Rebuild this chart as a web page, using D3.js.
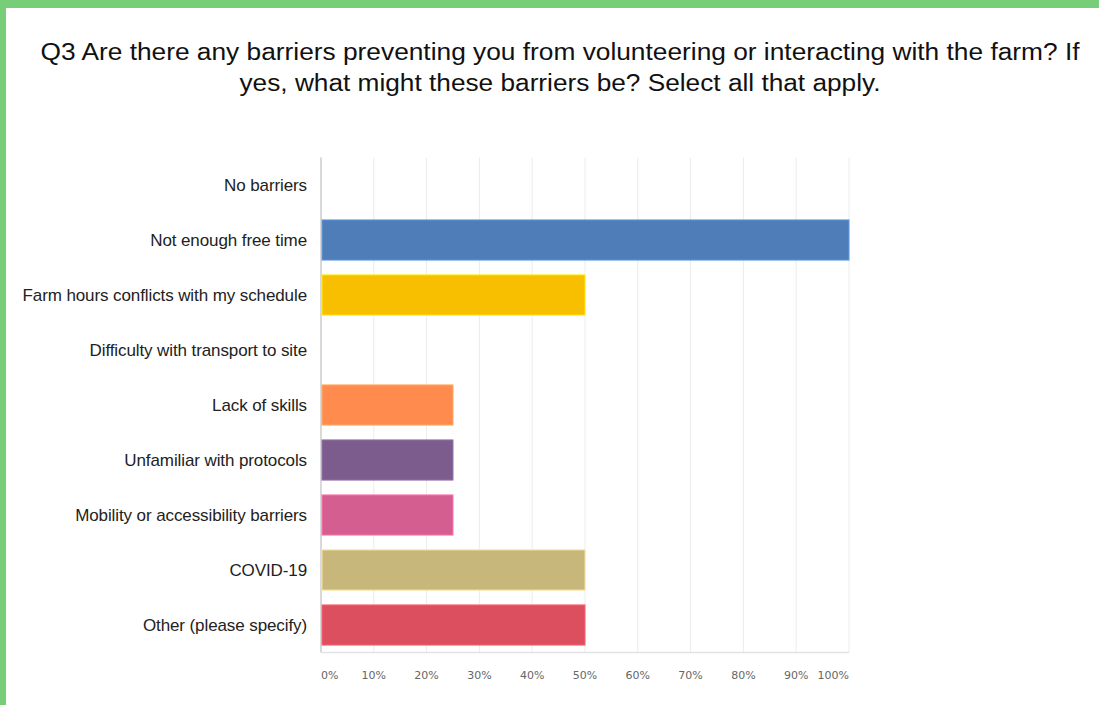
<!DOCTYPE html>
<html>
<head>
<meta charset="utf-8">
<script src="https://cdn.jsdelivr.net/npm/d3@7"></script>
<style>
  html, body { margin: 0; padding: 0; background: #fff; }
  svg { display: block; }
</style>
</head>
<body>
<svg id="svg"></svg>
<script>
// answers, in the order they are shown
const categories = [
    "No barriers",
    "Not enough free time",
    "Farm hours conflicts with my schedule",
    "Difficulty with transport to site",
    "Lack of skills",
    "Unfamiliar with protocols",
    "Mobility or accessibility barriers",
    "COVID-19",
    "Other (please specify)"
];

// percent of respondents
const values = [0, 100, 50, 0, 25, 25, 25, 50, 50];

const barColours = ["#4f7db7", "#4f7db7", "#f8bf00", "#7fa0c9", "#ff8b4e", "#7b5c8c", "#d45e8f", "#c8b77b", "#dc4f5e"];

const tickValues = [0, 10, 20, 30, 40, 50, 60, 70, 80, 90, 100];

const titleLines = [
    "Q3 Are there any barriers preventing you from volunteering or interacting with the farm? If",
    "yes, what might these barriers be? Select all that apply."
];
// measured widths of the two title lines in the picture
const titleWidths = [1039, 641];

const width = 1099;
const height = 705;

let svg = d3.select("#svg")
    .attr("width", width)
    .attr("height", height);

// green frame on top and left
svg.append("rect")
    .attr("x", 0).attr("y", 0)
    .attr("width", width).attr("height", 8)
    .attr("fill", "#78cd78");
svg.append("rect")
    .attr("x", 0).attr("y", 0)
    .attr("width", 6).attr("height", height)
    .attr("fill", "#78cd78");

// title
svg.append("g")
    .selectAll("text")
    .data(titleLines)
    .join("text")
    .attr("x", 560)
    .attr("y", (d, i) => 60 + i * 31)
    .attr("text-anchor", "middle")
    .attr("textLength", (d, i) => titleWidths[i])
    .attr("lengthAdjust", "spacingAndGlyphs")
    .style("font-family", "'Liberation Sans', Arial, sans-serif")
    .style("font-size", "23px")
    .style("fill", "#111")
    .text(d => d);

const margin = { top: 157.5, left: 321, right: 250, bottom: 52.5 };
const chartWidth = width - margin.left - margin.right;   // 528
const chartHeight = height - margin.top - margin.bottom; // 495

let chart = svg.append("g")
    .attr("transform", "translate(" + margin.left + "," + margin.top + ")");

let xScale = d3.scaleLinear()
    .domain([0, 100])
    .range([0, chartWidth]);

let yScale = d3.scaleBand()
    .domain(categories)
    .range([0, chartHeight])
    .paddingInner(0.27)
    .paddingOuter(0.135);

// vertical grid lines
chart.append("g")
    .selectAll("line")
    .data(tickValues)
    .join("line")
    .attr("x1", d => xScale(d))
    .attr("x2", d => xScale(d))
    .attr("y1", 0)
    .attr("y2", chartHeight)
    .attr("stroke", d => d === 0 ? "#d9d9d9" : "#ececec")
    .attr("stroke-width", d => d === 0 ? 2 : 1);

// bottom edge of the plot
chart.append("line")
    .attr("x1", 0).attr("x2", chartWidth)
    .attr("y1", chartHeight).attr("y2", chartHeight)
    .attr("stroke", "#e3e3e3")
    .attr("stroke-width", 1.5);

// bars
chart.selectAll(".bar")
    .data(categories.map((c, i) => ({ cat: c, val: values[i], col: barColours[i] })).filter(d => d.val > 0))
    .join("rect")
    .attr("class", "bar")
    .attr("x", xScale(0) + 1)
    .attr("y", d => yScale(d.cat))
    .attr("width", d => xScale(d.val) - xScale(0) - 1)
    .attr("height", yScale.bandwidth())
    .attr("fill", d => d.col)
    .attr("stroke", d => d3.color(d.col).brighter(0.6))
    .attr("stroke-width", 1);

// category labels
chart.append("g")
    .selectAll("text")
    .data(categories)
    .join("text")
    .attr("x", -14)
    .attr("y", d => yScale(d) + yScale.bandwidth() / 2)
    .attr("dy", "0.35em")
    .attr("text-anchor", "end")
    .style("font-family", "'Liberation Sans', Arial, sans-serif")
    .style("font-size", "17px")
    .style("letter-spacing", "-0.1px")
    .style("fill", "#222")
    .text(d => d);

// x tick labels
chart.append("g")
    .selectAll("text")
    .data(tickValues)
    .join("text")
    .attr("x", d => xScale(d))
    .attr("y", chartHeight + 26)
    .attr("text-anchor", d => d === 0 ? "start" : (d === 100 ? "end" : "middle"))
    .style("font-family", "'DejaVu Sans', Verdana, sans-serif")
    .style("font-size", "11px")
    .style("fill", "#666")
    .text(d => d + "%");
</script>
</body>
</html>
